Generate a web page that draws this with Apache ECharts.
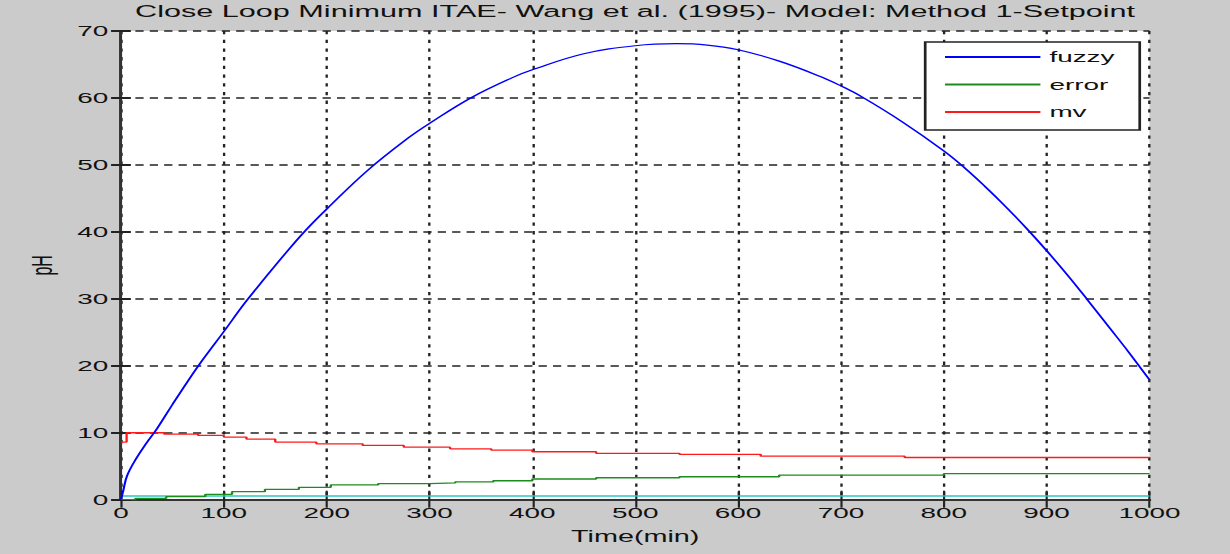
<!DOCTYPE html>
<html>
<head>
<meta charset="utf-8">
<script src="https://cdn.jsdelivr.net/npm/echarts@6/dist/echarts.min.js"></script>
<style>
  html, body { margin: 0; padding: 0; background: #cbcbcb; overflow: hidden; }
  /* the figure is laid out narrow and widened horizontally, like a stretched plot window */
  #chart { width: 683.333px; height: 554px; transform: scaleX(1.8); transform-origin: 0 0; }
</style>
</head>
<body>
<div id="chart"></div>
<script>
// Closed-loop response, time in minutes
const titleText = 'Close Loop Minimum ITAE- Wang et al. (1995)- Model: Method 1-Setpoint';
const seriesNames = ['fuzzy', 'error', 'mv'];

const fuzzyTime = [0, 2, 6, 15, 25, 35, 50, 65, 80, 100, 120, 140, 160, 180, 200, 240, 280, 300, 340, 380, 400, 450, 500, 540, 570, 600, 640, 680, 700, 720, 760, 800, 820, 840, 860, 880, 900, 920, 940, 960, 980, 1000];
const fuzzyPH   = [0, 1.2, 3.6, 6.2, 8.5, 10.6, 14.2, 17.7, 21.0, 25.1, 29.3, 33.1, 36.8, 40.3, 43.4, 49.2, 54.1, 56.2, 60.0, 63.0, 64.2, 66.6, 67.8, 68.1, 67.9, 67.2, 65.5, 63.2, 61.8, 60.2, 56.4, 52.1, 49.6, 46.8, 43.8, 40.6, 37.2, 33.6, 29.8, 25.9, 22.0, 17.9];

// error and mv change in small steps: each value holds until the next time
const errorTime = [0, 14, 44, 82, 108, 140, 173, 204, 250, 300, 325, 362, 400, 462, 543, 640, 800, 1000];
const errorPH   = [0, 0.2, 0.45, 0.8, 1.2, 1.55, 1.85, 2.2, 2.4, 2.5, 2.65, 2.83, 3.09, 3.28, 3.43, 3.68, 3.88, 3.88];

const mvTime = [0, 5.5, 42, 75, 100, 122, 150, 190, 235, 275, 320, 360, 400, 462, 543, 622, 762, 1000];
const mvPH   = [8.6, 10.0, 9.8, 9.6, 9.35, 9.05, 8.6, 8.35, 8.1, 7.85, 7.6, 7.41, 7.16, 6.92, 6.77, 6.5, 6.3, 6.3];

const spTime = [0, 1000];
const spPH   = [0.55, 0.55];

const xRange = { min: 0, max: 1000, step: 100 };
const yRange = { min: 0, max: 70, step: 10 };

const pairs = (xs, ys) => xs.map((x, i) => [x, ys[i]]);

const font = '"Liberation Sans", Arial, sans-serif';
const ink = '#111';

const chart = echarts.init(document.getElementById('chart'), null, { renderer: 'svg' });

const baseX = {
  type: 'value', min: xRange.min, max: xRange.max, interval: xRange.step
};
const baseY = {
  type: 'value', min: yRange.min, max: yRange.max, interval: yRange.step
};

chart.setOption({
  animation: false,
  backgroundColor: '#cbcbcb',
  textStyle: { fontFamily: font },
  graphic: [{
    type: 'text',
    x: 352.8, y: 3,
    style: {
      text: titleText,
      font: '17px ' + font,
      fill: ink,
      textAlign: 'center',
      textVerticalAlign: 'top'
    }
  }],
  grid: {
    left: 67.2, right: 44.4, top: 31, bottom: 54.3,
    show: true, backgroundColor: '#ffffff', borderWidth: 0
  },
  legend: {
    data: seriesNames,
    orient: 'vertical',
    left: 514, top: 42,
    itemWidth: 53, itemHeight: 14, itemGap: 11.5,
    padding: [7, 14, 10, 10],
    backgroundColor: '#ffffff',
    borderColor: '#222', borderWidth: 1.5, borderRadius: 0,
    itemStyle: { opacity: 0 },
    lineStyle: { opacity: 1 },
    textStyle: { fontSize: 15.5, color: ink, fontFamily: font }
  },
  xAxis: [
    Object.assign({}, baseX, {
      position: 'bottom',
      name: 'Time(min)', nameLocation: 'middle', nameGap: 29,
      nameTextStyle: { fontSize: 16, color: ink, fontFamily: font },
      axisLine: { show: true, lineStyle: { color: '#333', width: 2 } },
      axisTick: { show: true, inside: true, length: 9, lineStyle: { color: '#222', width: 1.2 } },
      axisLabel: { margin: 5, fontSize: 15.5, color: ink, fontFamily: font, formatter: v => String(v) },
      splitLine: { show: true, lineStyle: { color: '#222', width: 1.3, type: [3.3, 5.4] } }
    }),
    Object.assign({}, baseX, {
      position: 'top',
      axisLine: { show: true, lineStyle: { color: '#333', width: 2 } },
      axisTick: { show: true, inside: true, length: 8, lineStyle: { color: '#222', width: 1.2 } },
      axisLabel: { show: false },
      splitLine: { show: false }
    })
  ],
  yAxis: [
    Object.assign({}, baseY, {
      position: 'left',
      name: 'pH', nameLocation: 'middle', nameGap: 36,
      nameTextStyle: { fontSize: 16, color: ink, fontFamily: font },
      axisLine: { show: true, lineStyle: { color: '#333', width: 1.6 } },
      axisTick: { show: true, inside: true, length: 5.5, lineStyle: { color: '#222', width: 2 } },
      axisLabel: { margin: 7, fontSize: 15.5, color: ink, fontFamily: font },
      splitLine: { show: true, lineStyle: { color: '#222', width: 1.6, type: [4.6, 3.4] } }
    }),
    Object.assign({}, baseY, {
      position: 'right',
      axisLine: { show: true, lineStyle: { color: '#333', width: 1.6 } },
      axisTick: { show: true, inside: true, length: 5.5, lineStyle: { color: '#222', width: 2 } },
      axisLabel: { show: false },
      splitLine: { show: false }
    })
  ],
  series: [
    {
      name: 'fuzzy', type: 'line', data: pairs(fuzzyTime, fuzzyPH),
      symbol: 'none', smooth: 0.4,
      lineStyle: { color: '#0000ff', width: 1.2 }, itemStyle: { color: '#0000ff' }, z: 5
    },
    {
      name: 'error', type: 'line', data: pairs(errorTime, errorPH),
      symbol: 'none', step: 'end',
      lineStyle: { color: '#1c8c1c', width: 1.3 }, itemStyle: { color: '#1c8c1c' }, z: 4
    },
    {
      name: 'mv', type: 'line', data: pairs(mvTime, mvPH),
      symbol: 'none', step: 'end',
      lineStyle: { color: '#ff1a1a', width: 1.3 }, itemStyle: { color: '#ff1a1a' }, z: 4
    },
    {
      name: 'setpoint', type: 'line', data: pairs(spTime, spPH),
      symbol: 'none',
      lineStyle: { color: '#2cc4c4', width: 1.5 }, itemStyle: { color: '#2cc4c4' }, z: 3
    }
  ]
});
</script>
</body>
</html>
